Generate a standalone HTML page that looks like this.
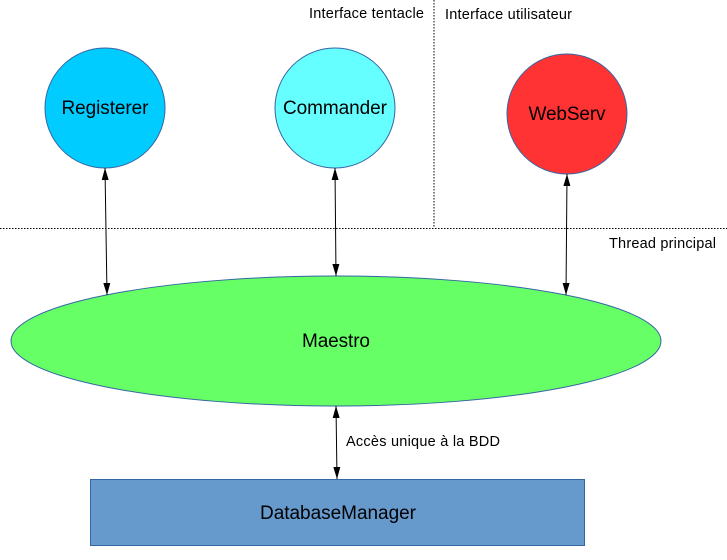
<!DOCTYPE html>
<html><head><meta charset="utf-8"><style>html,body{margin:0;padding:0;background:#fff}svg{display:block}</style></head>
<body>
<svg width="727" height="560" viewBox="0 0 727 560" xmlns="http://www.w3.org/2000/svg" font-family="Liberation Sans, sans-serif">
<defs>
<marker id="a" viewBox="0 0 10 10" refX="10" refY="5" markerWidth="12" markerHeight="7" preserveAspectRatio="none" orient="auto-start-reverse" markerUnits="userSpaceOnUse"><path d="M0,0 L10,5 L0,10 z" fill="#000"/></marker>
</defs>
<line x1="434" y1="0" x2="434" y2="228" stroke="#000" stroke-width="1" stroke-dasharray="1.5,1.5"/>
<line x1="0" y1="228.5" x2="727" y2="228.5" stroke="#000" stroke-width="1" stroke-dasharray="1.5,1.5"/>
<text x="309" y="18" font-size="14.5" textLength="115" fill="#000">Interface tentacle</text>
<text x="445" y="19" font-size="14.5" textLength="127" fill="#000">Interface utilisateur</text>
<text x="609" y="248" font-size="14.5" textLength="107" fill="#000">Thread principal</text>
<ellipse cx="105" cy="108" rx="60" ry="60" fill="#00ccff" stroke="#3465a4"/>
<ellipse cx="335" cy="108" rx="60" ry="60" fill="#66ffff" stroke="#3465a4"/>
<ellipse cx="567" cy="114" rx="60" ry="60" fill="#ff3333" stroke="#3465a4"/>
<text x="105" y="114" font-size="19" text-anchor="middle" textLength="87">Registerer</text>
<text x="335" y="114" font-size="19" text-anchor="middle" textLength="104">Commander</text>
<text x="567" y="120" font-size="19" text-anchor="middle" textLength="77">WebServ</text>
<ellipse cx="336" cy="341" rx="325" ry="65" fill="#66ff66" stroke="#3465a4"/>
<text x="336" y="347" font-size="19" text-anchor="middle" textLength="68">Maestro</text>
<rect x="90.5" y="479.5" width="494" height="66" fill="#6699cc" stroke="#3465a4"/>
<text x="338" y="519" font-size="19" text-anchor="middle" textLength="156">DatabaseManager</text>
<line x1="105" y1="168" x2="107" y2="295" stroke="#000" marker-start="url(#a)" marker-end="url(#a)"/>
<line x1="335" y1="168" x2="336" y2="276" stroke="#000" marker-start="url(#a)" marker-end="url(#a)"/>
<line x1="567" y1="174" x2="566" y2="295" stroke="#000" marker-start="url(#a)" marker-end="url(#a)"/>
<line x1="336" y1="406" x2="337" y2="479" stroke="#000" marker-start="url(#a)" marker-end="url(#a)"/>
<text x="346" y="446" font-size="14.5" textLength="154">Accès unique à la BDD</text>
</svg>
</body></html>
